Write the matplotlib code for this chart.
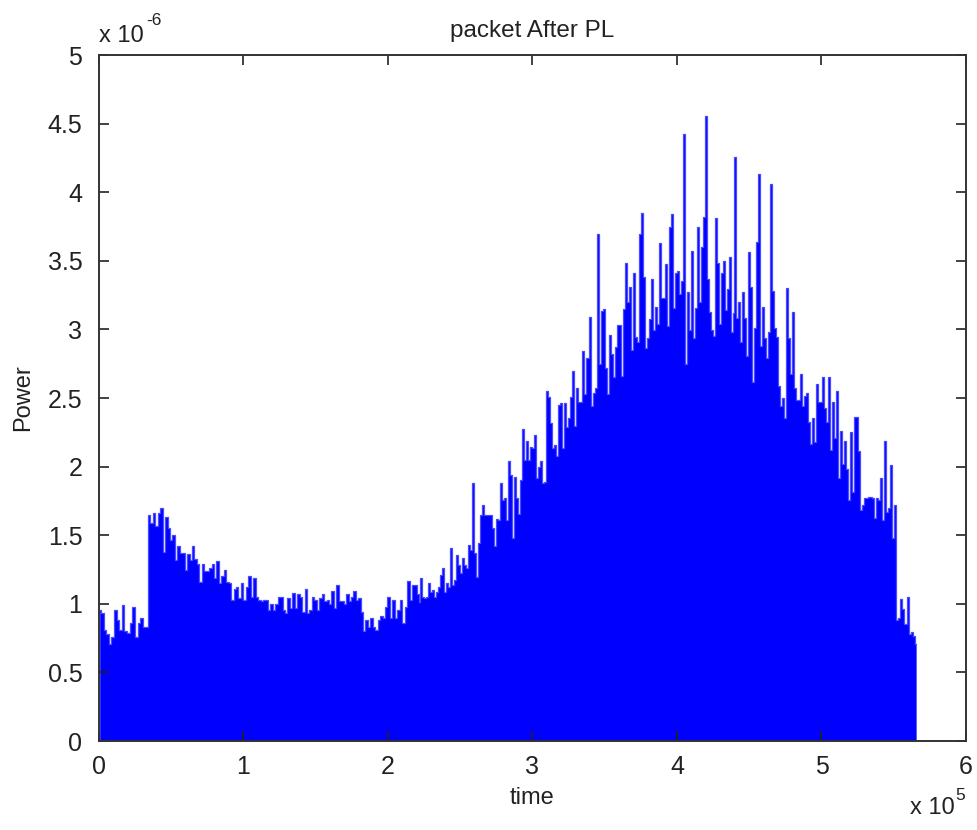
import numpy as np
import matplotlib
matplotlib.use("Agg")
from matplotlib import pyplot as plt

plt.rcParams['font.family'] = ['Liberation Sans', 'DejaVu Sans']

# peak power per column (x 1e-6)
# each segment: (t_start, t_end) in units of 1e5
spanA = (0.005, 0.33)
peakA = [0.955, 0.93, 0.81, 0.78, 0.71, 0.76, 0.955, 0.88, 0.81, 0.99,
         0.80, 0.79, 0.86, 0.975, 0.76, 0.86, 0.90, 0.83, 0.83]

spanB = (0.348, 1.820)
peakB = [1.647, 1.587, 1.66, 1.566, 1.66, 1.696, 1.38, 1.63, 1.55, 1.465,
         1.50, 1.32, 1.42, 1.37, 1.37, 1.246, 1.36, 1.32, 1.42, 1.33,
         1.29, 1.16, 1.29, 1.24, 1.24, 1.26, 1.29, 1.19, 1.31, 1.15,
         1.20, 1.25, 1.16, 1.15, 1.03, 1.11, 1.12, 1.04, 1.15, 1.03,
         1.12, 1.20, 1.05, 1.19, 1.05, 1.03, 1.02, 1.03, 1.03, 0.955,
         1.00, 0.955, 1.00, 1.05, 1.05, 0.955, 0.93, 1.04, 0.97, 1.08,
         0.97, 1.07, 1.05, 0.94, 1.11, 0.93, 0.955, 1.05, 1.03, 0.955,
         1.04, 1.07, 1.02, 1.03, 1.00, 1.09, 0.97, 1.14, 1.02, 1.02,
         1.00, 1.07, 1.02, 1.05, 1.09, 1.03, 1.04, 0.94]

spanC = (1.834, 2.210)
peakC = [0.80, 0.88, 0.83, 0.90, 0.83, 0.81, 0.88, 0.91, 0.90, 0.975,
         1.05, 0.90, 1.03, 0.90, 0.955, 1.03, 0.86, 0.975, 1.17, 1.03,
         1.14, 1.14, 1.07]

spanD = (2.217, 3.255)
peakD = [1.015, 1.186, 1.052, 1.040, 1.052, 1.154, 1.088, 1.10, 1.052, 1.088,
         1.125, 1.21, 1.259, 1.088, 1.154, 1.125, 1.404, 1.137, 1.173, 1.356,
         1.283, 1.222, 1.331, 1.283, 1.259, 1.429, 1.392, 1.883, 1.368, 1.198,
         1.446, 1.647, 1.72, 1.647, 1.647, 1.647, 1.647, 1.55, 1.421, 1.62,
         1.611, 1.883, 1.757, 1.769, 1.611, 2.043, 1.939, 1.477, 1.927, 1.769,
         1.655, 1.902, 2.277, 2.048, 2.189, 2.048, 2.14, 2.133, 2.23, 1.915,
         2.0, 2.043, 1.878, 1.89, 2.553, 2.51, 2.32, 2.133, 2.157, 2.077,
         2.449, 2.461, 2.133, 2.466, 2.291, 2.352]

spanE = (3.270, 4.392)
peakE = [2.51, 2.699, 2.296, 2.571, 2.468, 2.468, 2.845, 2.529, 2.789, 3.093,
         2.444, 2.539, 2.571, 3.693, 2.745, 3.137, 3.149, 2.716, 2.529, 2.959,
         2.818, 2.651, 2.874, 3.032, 3.032, 2.66, 3.149, 3.486, 3.197, 3.311,
         2.85, 3.413, 2.947, 2.906, 3.693, 3.851, 3.384, 2.867, 2.935, 3.078,
         3.37, 2.996, 3.166, 3.039, 3.632, 3.226, 3.226, 3.474, 3.025, 3.749,
         3.839, 3.154, 3.413, 3.428, 3.258, 3.355, 4.424, 2.748, 3.27, 2.996,
         3.574, 2.935, 3.154, 3.749, 3.197, 3.603, 3.822, 4.555, 3.37, 3.124,
         2.996, 2.954, 3.81, 3.486, 3.037, 3.413, 3.501, 3.141, 3.297, 3.53,
         2.981, 3.122]

spanF = (4.404, 5.511)
peakF = [4.259, 3.081, 3.197, 2.906, 3.27, 3.081, 2.806, 3.562, 3.311, 2.614,
         3.008, 3.635, 4.13, 2.879, 3.166, 2.935, 2.789, 2.979, 4.057, 3.282,
         3.008, 2.947, 2.587, 2.442, 2.498, 2.352, 3.3, 2.935, 2.673, 3.124,
         2.571, 2.485, 2.485, 2.673, 2.442, 2.515, 2.539, 2.323, 2.165, 2.352,
         2.182, 2.6, 2.468, 2.468, 2.655, 2.425, 2.323, 2.655, 2.121, 2.468,
         2.206, 2.553, 1.915, 2.262, 2.019, 2.189, 1.983, 1.757, 2.25, 1.812,
         2.364, 2.364, 2.116, 1.684, 1.72, 1.769, 1.769, 1.781, 1.781, 1.769,
         1.628, 1.769, 1.757, 1.915, 1.611, 2.189, 1.671, 1.696, 2.012, 1.477,
         1.72]

spanG = (5.523, 5.655)
peakG = [0.885, 0.90, 1.034, 0.959, 0.855, 1.048, 0.78, 0.795, 0.765, 0.705]

segments = [(spanA, peakA), (spanB, peakB), (spanC, peakC), (spanD, peakD),
            (spanE, peakE), (spanF, peakF), (spanG, peakG)]

t = np.concatenate([np.linspace(s[0], s[1], len(p)) for s, p in segments])
power = np.concatenate([np.array(p) for s, p in segments])

fig = plt.figure(figsize=(9.78, 8.3), dpi=100)
ax = fig.add_axes([0.1012, 0.1072, 0.8865, 0.8265])

ax.fill_between(t, 0, power, step='mid', color='#0000ff', lw=0)
ax.step(t, power, where='mid', color='#4a4aff', lw=0.9)

ax.set_xlim(0, 6)
ax.set_ylim(0, 5)
ax.set_xticks(np.arange(0, 7, 1))
ax.set_xticklabels(['0', '1', '2', '3', '4', '5', '6'])
ax.set_yticks(np.arange(0, 5.01, 0.5))
ax.set_yticklabels(['0', '0.5', '1', '1.5', '2', '2.5', '3', '3.5', '4', '4.5', '5'])

ax.tick_params(direction='in', length=7, width=1.2, top=True, right=True,
               labelsize=18, colors='#222222')
ax.tick_params(axis='y', pad=12)
ax.tick_params(axis='x', pad=10)
for sp in ax.spines.values():
    sp.set_linewidth(1.4)
    sp.set_color('#333333')

ax.set_title('packet After PL', fontsize=17.5, pad=13, color='#222222')
ax.set_xlabel('time', fontsize=17, labelpad=6, color='#222222')
ax.set_ylabel('Power', fontsize=17, labelpad=10, color='#222222')

# MATLAB style exponent labels
ax.text(0.0, 1.012, 'x 10', transform=ax.transAxes, fontsize=17,
        ha='left', va='bottom', color='#222222')
ax.text(0.054, 1.040, '-6', transform=ax.transAxes, fontsize=12.5,
        ha='left', va='bottom', color='#222222')
ax.text(0.987, -0.082, 'x 10', transform=ax.transAxes, fontsize=17,
        ha='right', va='top', color='#222222')
ax.text(0.988, -0.068, '5', transform=ax.transAxes, fontsize=12.5,
        ha='left', va='top', color='#222222')

fig.savefig('out.png', dpi=100, facecolor='white')
